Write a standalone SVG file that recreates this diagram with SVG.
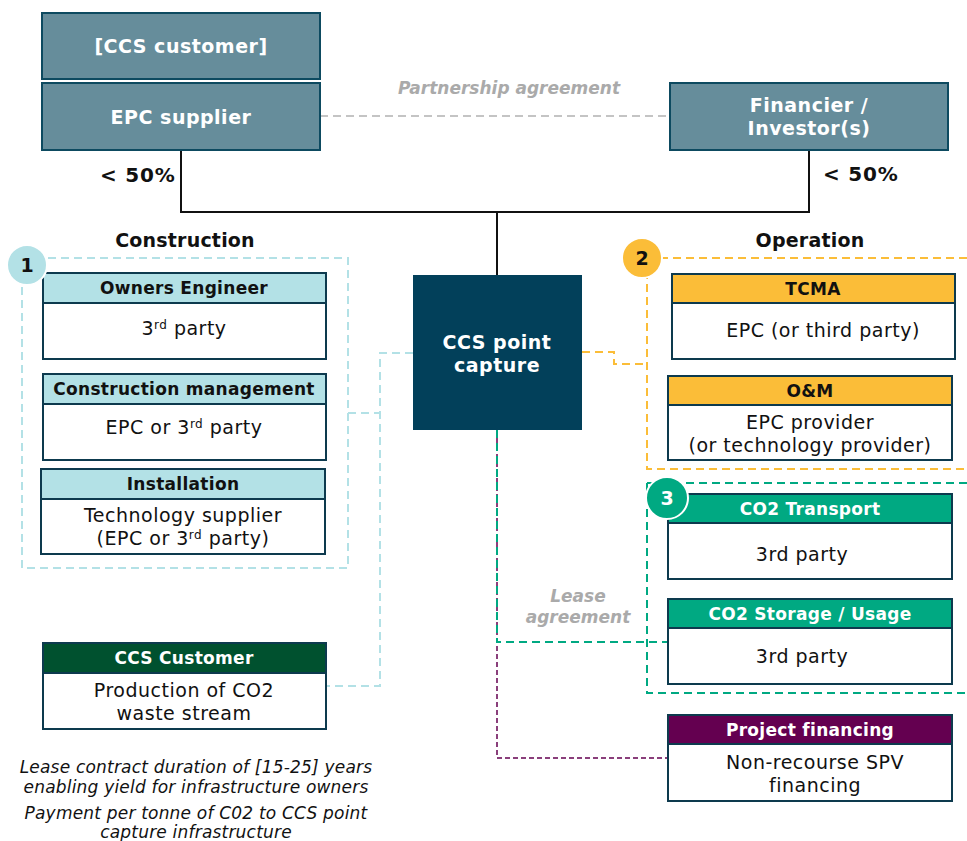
<svg xmlns="http://www.w3.org/2000/svg" width="967" height="841" viewBox="0 0 967 841">
  <style>
    text { font-family: "DejaVu Sans", Verdana, sans-serif; }
    .top { fill: #668d9b; stroke: #0d4a60; stroke-width: 2; }
    .topText { fill: #ffffff; font-size: 19px; font-weight: bold; text-anchor: middle; letter-spacing: 0.5px; }
    .body { fill: #ffffff; stroke: #0d3a4e; stroke-width: 2; }
    .hdr { stroke: #0d3a4e; stroke-width: 2; }
    .hdrText { font-size: 17px; font-weight: bold; text-anchor: middle; fill: #111111; letter-spacing: 0.3px; }
    .hdrWhite { fill: #ffffff; }
    .bodyText { font-size: 19px; text-anchor: middle; fill: #111111; letter-spacing: 0.5px; }
    .title { font-size: 19px; font-weight: bold; text-anchor: middle; fill: #111111; letter-spacing: 0.2px; }
    .pct { font-size: 20px; font-weight: bold; fill: #111111; letter-spacing: 0.8px; }
    .agree { font-size: 17px; font-weight: bold; font-style: italic; fill: #aaaaaa; text-anchor: middle; }
    .note { font-size: 17px; font-style: italic; fill: #111111; text-anchor: middle; letter-spacing: 0.2px; }
    .num { font-size: 19px; font-weight: bold; text-anchor: middle; }
    .cyan { fill: #b3e1e6; }
    .orange { fill: #fbbd38; }
    .green { fill: #00a982; }
    .dkgreen { fill: #00512f; }
    .purple { fill: #640050; }
    .dash-cyan { fill: none; stroke: #b3e1e6; stroke-width: 2; stroke-dasharray: 8 5; }
    .dash-orange { fill: none; stroke: #fbbd38; stroke-width: 2; stroke-dasharray: 8 5; }
    .dash-green { fill: none; stroke: #00a982; stroke-width: 2; stroke-dasharray: 8 5; }
    .dash-purple { fill: none; stroke: #640050; stroke-width: 1.5; stroke-dasharray: 5 3; }
    .dash-grey { fill: none; stroke: #c4c4c4; stroke-width: 2; stroke-dasharray: 8 5; }
    .solid { fill: none; stroke: #111111; stroke-width: 2; }
  </style>

  <!-- group outlines -->
  <g id="group-construction">
    <rect class="dash-cyan" x="22" y="258" width="326" height="310"/>
  </g>
  <g id="group-operation">
    <path class="dash-orange" d="M647 258 H967 M647 258 V469 H967"/>
  </g>
  <g id="group-co2">
    <path class="dash-green" d="M647 483 H967 M647 483 V693 H967"/>
  </g>

  <!-- connectors -->
  <g id="connectors">
    <path class="solid" d="M181 150 V212 H809 V150 M497 212 V275"/>
    <path class="dash-grey" d="M320 116 H670"/>
    <path class="dash-cyan" d="M348 413 H380 M413 353 H380 V686 H326"/>
    <path class="dash-orange" d="M582 352 H614 V364 H647"/>
    <path class="dash-purple" d="M497 430 V758 H668"/>
    <path class="dash-green" d="M497 430 V642 H668"/>
  </g>

  <!-- labels on connectors -->
  <text class="agree" x="509" y="94">Partnership agreement</text>
  <text class="agree" x="578" y="602">Lease</text>
  <text class="agree" x="578" y="623">agreement</text>
  <text class="pct" x="100" y="182">&lt; 50%</text>
  <text class="pct" x="823" y="181">&lt; 50%</text>
  <text class="title" x="185" y="247">Construction</text>
  <text class="title" x="810" y="247">Operation</text>

  <!-- owners -->
  <g id="ccs-customer-top">
    <rect class="top" x="42" y="13" width="278" height="66"/>
    <text class="topText" x="181" y="53">[CCS customer]</text>
  </g>
  <g id="epc-supplier">
    <rect class="top" x="42" y="83" width="278" height="67"/>
    <text class="topText" x="181" y="124">EPC supplier</text>
  </g>
  <g id="financier">
    <rect class="top" x="670" y="83" width="278" height="67"/>
    <text class="topText" x="809" y="112">Financier /</text>
    <text class="topText" x="809" y="135">Investor(s)</text>
  </g>

  <!-- central asset -->
  <g id="ccs-point-capture">
    <rect x="413" y="275" width="169" height="155" fill="#02405a"/>
    <text class="topText" x="497" y="349">CCS point</text>
    <text class="topText" x="497" y="372">capture</text>
  </g>

  <!-- construction parties -->
  <g id="owners-engineer">
    <rect class="body" x="43" y="273" width="283" height="86"/>
    <rect class="hdr cyan" x="43" y="273" width="283" height="30"/>
    <text class="hdrText" x="184" y="294">Owners Engineer</text>
    <text class="bodyText" x="184" y="335">3<tspan font-size="12" baseline-shift="6">rd</tspan> party</text>
  </g>
  <g id="construction-management">
    <rect class="body" x="43" y="374" width="283" height="86"/>
    <rect class="hdr cyan" x="43" y="374" width="283" height="30"/>
    <text class="hdrText" x="184" y="395">Construction management</text>
    <text class="bodyText" x="184" y="434">EPC or 3<tspan font-size="12" baseline-shift="6">rd</tspan> party</text>
  </g>
  <g id="installation">
    <rect class="body" x="41" y="469" width="284" height="85"/>
    <rect class="hdr cyan" x="41" y="469" width="284" height="30"/>
    <text class="hdrText" x="183" y="490">Installation</text>
    <text class="bodyText" x="183" y="522">Technology supplier</text>
    <text class="bodyText" x="183" y="545">(EPC or 3<tspan font-size="12" baseline-shift="6">rd</tspan> party)</text>
  </g>
  <g id="ccs-customer">
    <rect class="body" x="43" y="643" width="283" height="86"/>
    <rect class="hdr dkgreen" x="43" y="643" width="283" height="30"/>
    <text class="hdrText hdrWhite" x="184" y="664">CCS Customer</text>
    <text class="bodyText" x="184" y="697">Production of CO2</text>
    <text class="bodyText" x="184" y="720">waste stream</text>
  </g>

  <!-- operation parties -->
  <g id="tcma">
    <rect class="body" x="672" y="274" width="283" height="85"/>
    <rect class="hdr orange" x="672" y="274" width="283" height="29"/>
    <text class="hdrText" x="813" y="295">TCMA</text>
    <text class="bodyText" x="823" y="337">EPC (or third party)</text>
  </g>
  <g id="o-and-m">
    <rect class="body" x="668" y="376" width="284" height="84"/>
    <rect class="hdr orange" x="668" y="376" width="284" height="29"/>
    <text class="hdrText" x="810" y="397">O&amp;M</text>
    <text class="bodyText" x="810" y="429">EPC provider</text>
    <text class="bodyText" x="810" y="452">(or technology provider)</text>
  </g>
  <g id="co2-transport">
    <rect class="body" x="668" y="494" width="284" height="85"/>
    <rect class="hdr green" x="668" y="494" width="284" height="29"/>
    <text class="hdrText hdrWhite" x="810" y="515">CO2 Transport</text>
    <text class="bodyText" x="802" y="561">3rd party</text>
  </g>
  <g id="co2-storage">
    <rect class="body" x="668" y="599" width="284" height="85"/>
    <rect class="hdr green" x="668" y="599" width="284" height="29"/>
    <text class="hdrText hdrWhite" x="810" y="620">CO2 Storage / Usage</text>
    <text class="bodyText" x="802" y="663">3rd party</text>
  </g>
  <g id="project-financing">
    <rect class="body" x="668" y="715" width="284" height="86"/>
    <rect class="hdr purple" x="668" y="715" width="284" height="29"/>
    <text class="hdrText hdrWhite" x="810" y="736">Project financing</text>
    <text class="bodyText" x="815" y="769">Non-recourse SPV</text>
    <text class="bodyText" x="815" y="792">financing</text>
  </g>

  <!-- numbered badges -->
  <g id="badge-1">
    <circle cx="27" cy="265" r="20" fill="#b3e1e6" stroke="#ffffff" stroke-width="2"/>
    <text class="num" x="27" y="272" fill="#111111">1</text>
  </g>
  <g id="badge-2">
    <circle cx="642" cy="258" r="20" fill="#fbbd38" stroke="#ffffff" stroke-width="2"/>
    <text class="num" x="642" y="265" fill="#111111">2</text>
  </g>
  <g id="badge-3">
    <circle cx="667" cy="498" r="21" fill="#00a982" stroke="#ffffff" stroke-width="2"/>
    <text class="num" x="667" y="505" fill="#ffffff">3</text>
  </g>

  <!-- notes -->
  <text class="note" x="196" y="773">Lease contract duration of [15-25] years</text>
  <text class="note" x="196" y="793">enabling yield for infrastructure owners</text>
  <text class="note" x="196" y="819">Payment per tonne of C02 to CCS point</text>
  <text class="note" x="196" y="838">capture infrastructure</text>
</svg>
